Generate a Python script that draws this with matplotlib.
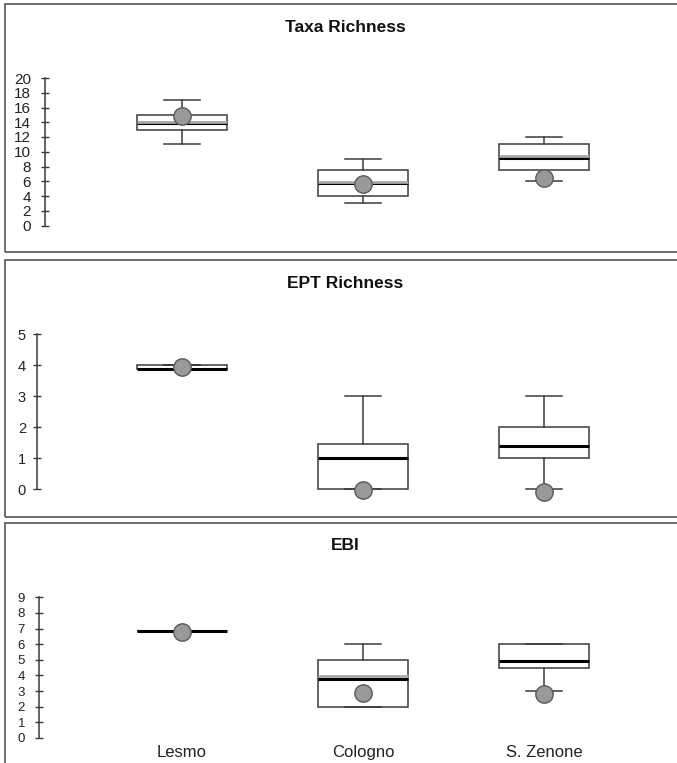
import matplotlib
matplotlib.use("Agg")
import matplotlib.pyplot as plt
from matplotlib.patches import Rectangle
import numpy as np

# sites along the x axis
sites = ["Lesmo", "Cologno", "S. Zenone"]

# Taxa Richness
taxa_lo = [11, 3, 6]
taxa_q1 = [13, 4, 7.5]
taxa_med = [13.9, 5.7, 9.15]
taxa_mean = [14.1, 5.9, 9.4]
taxa_q3 = [15, 7.5, 11]
taxa_hi = [17, 9, 12]
taxa_obs = [14.85, 5.6, 6.5]

# EPT Richness
ept_lo = [4, 0, 0]
ept_q1 = [3.87, 0, 1]
ept_med = [3.87, 1.0, 1.4]
ept_mean = [None, None, None]
ept_q3 = [4, 1.47, 2]
ept_hi = [4, 3, 3]
ept_obs = [3.93, -0.03, -0.08]

# EBI
ebi_lo = [6.85, 2, 3]
ebi_q1 = [6.85, 2, 4.45]
ebi_med = [6.85, 3.8, 4.95]
ebi_mean = [None, 3.95, None]
ebi_q3 = [6.85, 5, 6]
ebi_hi = [6.85, 6, 6]
ebi_obs = [6.8, 2.86, 2.82]

W, H = 677, 763
fig = plt.figure(figsize=(W / 100, H / 100), dpi=100)

EDGE = "#3a3a3a"
num_font = ["Liberation Sans Narrow", "Liberation Sans", "DejaVu Sans"]


def px_x(p):
    # horizontal pixel -> data position (site 1 at 182 px, 181 px per site)
    return 1 + (p - 182) / 181.0


def make_panel(top, bottom, spine_px, ax_top, ax_bot, y0_px, unit_px,
               title, ticks, lo, q1, med, mean, q3, hi, obs, lab_size, lab_pad,
               show_sites=False):
    # outer frame of the panel
    fig.patches.append(Rectangle((4.5 / W, 1 - bottom / H), 1.0, (bottom - top) / H,
                                 transform=fig.transFigure, fill=False,
                                 edgecolor="#555555", linewidth=1.2))
    ax = fig.add_axes([spine_px / W, 1 - ax_bot / H, (672 - spine_px) / W, (ax_bot - ax_top) / H])
    ax.set_facecolor("none")
    ax.set_xlim(px_x(spine_px), px_x(672))
    ax.set_ylim((y0_px - ax_bot) / unit_px, (y0_px - ax_top) / unit_px)

    stats = []
    for i in range(len(sites)):
        d = dict(whislo=lo[i], q1=q1[i], med=med[i], q3=q3[i], whishi=hi[i], fliers=[])
        d["mean"] = mean[i] if mean[i] is not None else np.nan
        stats.append(d)
    pos = np.arange(1, len(sites) + 1)
    ax.bxp(stats, positions=pos, widths=0.5, capwidths=0.2, patch_artist=True,
           showmeans=True, meanline=True, showfliers=False,
           boxprops=dict(facecolor="white", edgecolor=EDGE, linewidth=1.1),
           whiskerprops=dict(color=EDGE, linewidth=1.1),
           capprops=dict(color=EDGE, linewidth=1.1),
           medianprops=dict(color="black", linewidth=2.2),
           meanprops=dict(color="#a8a8a8", linewidth=2.0, linestyle="-"))
    ax.plot(pos, obs, linestyle="none", marker="o", markersize=12.5,
            markerfacecolor="#999999", markeredgecolor="#5a5a5a",
            markeredgewidth=1.0, zorder=5)

    for s in ["top", "right", "bottom"]:
        ax.spines[s].set_visible(False)
    ax.spines["left"].set_bounds(ticks[0], ticks[-1])
    ax.spines["left"].set_color(EDGE)
    ax.spines["left"].set_linewidth(1.1)
    ax.set_yticks(ticks)
    ax.set_yticklabels([str(t) for t in ticks], family=num_font,
                       fontsize=lab_size, color="#222222")
    ax.tick_params(axis="y", direction="inout", length=6, width=1.0,
                   color=EDGE, pad=lab_pad)
    if show_sites:
        ax.set_xticks(pos)
        ax.set_xticklabels(sites, family=["Liberation Sans", "DejaVu Sans"],
                           fontsize=12, color="#222222")
        ax.tick_params(axis="x", length=0, pad=5)
    else:
        ax.set_xticks([])

    fig.text(345 / W, 1 - (top + 23) / H, title, ha="center", va="center",
             family=["Liberation Sans", "DejaVu Sans"], fontweight="bold",
             fontsize=12.5, color="#111111")
    return ax


make_panel(4, 252, 45, 60, 245, 225.5, 7.375, "Taxa Richness",
           list(range(0, 21, 2)), taxa_lo, taxa_q1, taxa_med, taxa_mean,
           taxa_q3, taxa_hi, taxa_obs, 11, 7)
make_panel(260, 517, 37, 315, 510, 489.3, 31.06, "EPT Richness",
           list(range(0, 6)), ept_lo, ept_q1, ept_med, ept_mean,
           ept_q3, ept_hi, ept_obs, 10.5, 5)
make_panel(523, 775, 39, 580, 738, 738, 15.63, "EBI",
           list(range(0, 10)), ebi_lo, ebi_q1, ebi_med, ebi_mean,
           ebi_q3, ebi_hi, ebi_obs, 9.5, 7, show_sites=True)

fig.savefig("out.png", dpi=100, facecolor="white")
